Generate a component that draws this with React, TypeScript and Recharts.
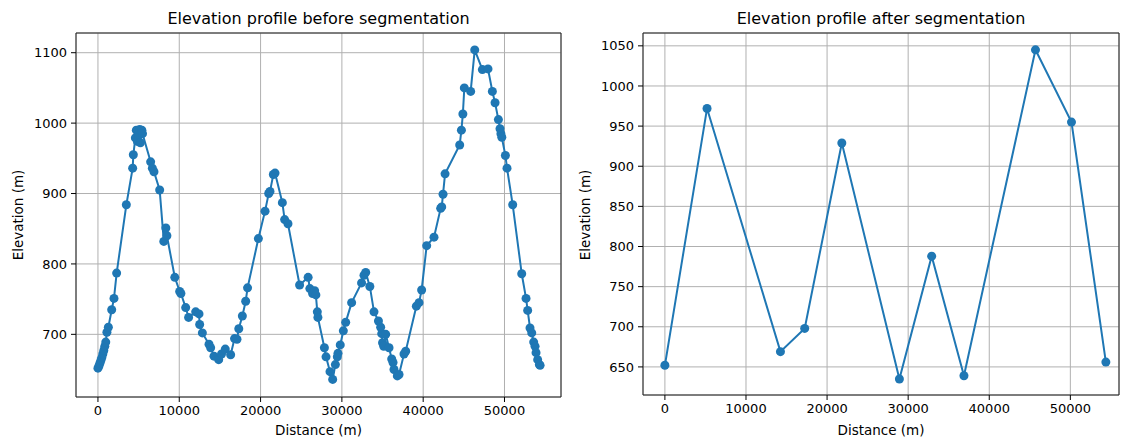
import React from "react";
import {LineChart, Line, XAxis, YAxis, CartesianGrid, ReferenceArea} from "recharts";

// full profile
const distances = [
	0, 120, 240, 360, 480, 600, 720, 840, 960, 1100, 1280, 1690, 1970, 2300, 3490, 4270, 4350, 4600, 4720, 4850,
	5000, 5130, 5220, 5400, 5480, 6480, 6690, 6890, 7590, 8100, 8350, 8480, 9450, 10050, 10200, 10790, 11150,
	12020, 12430, 12510, 12840, 13660, 13860, 14270, 14850, 15200, 15660, 16320, 16800, 17100, 17320, 17760,
	18170, 18400, 19730, 20550, 21000, 21160, 21570, 21780, 22680, 22960, 23370, 24800, 25850, 26060, 26400,
	26650, 26800, 26980, 27050, 27850, 28050, 28540, 28870, 29200, 29440, 29520, 29800, 30180, 30470, 31200,
	32420, 32720, 32930, 33440, 33950, 34500, 34770, 34900, 35000, 35150, 35390, 35800, 36130, 36290, 36410,
	36820, 37030, 37640, 37850, 39160, 39490, 39810, 40430, 41330, 42150, 42280, 42440, 42690, 44490, 44700,
	44880, 45060, 45840, 46340, 47280, 47970, 48510, 48840, 49250, 49450, 49560, 49670, 50110, 50310, 51010,
	52120, 52650, 52850, 53140, 53350, 53590, 53760, 53880, 54080, 54290, 54380,
];
const elevations = [
	652, 655, 659, 663, 667, 672, 677, 683, 689, 703, 710, 735, 751, 787, 884, 936, 955, 979, 990, 974,
	984, 991, 972, 990, 985, 945, 936, 931, 905, 832, 851, 840, 781, 761, 758, 738, 724,
	732, 729, 714, 702, 686, 681, 669, 664, 672, 679, 671, 694, 693, 708, 726,
	747, 766, 836, 875, 900, 903, 927, 929, 887, 863, 857, 770, 781, 765, 758,
	762, 756, 732, 724, 681, 668, 647, 636, 657, 668, 673, 685, 705, 717, 745,
	773, 784, 788, 768, 732, 719, 710, 701, 688, 683, 700, 681, 665, 660, 650,
	641, 643, 672, 676, 740, 745, 763, 826, 838, 879, 881, 899, 928, 969, 990,
	1013, 1050, 1045, 1104, 1076, 1077, 1045, 1029, 1005, 992, 985, 980, 954, 936, 884,
	786, 751, 734, 709, 702, 689, 683, 674, 664, 657, 656,
];

// segmented profile (right plot)
const segDistances = [0, 5200, 14250, 17240, 21820, 28920, 32900, 36880, 45700, 50140, 54380];
const segElevations = [652, 972, 669, 698, 929, 635, 788, 639, 1045, 955, 656];

const xTicks = [0, 10000, 20000, 30000, 40000, 50000];
const leftYTicks = [700, 800, 900, 1000, 1100];
const rightYTicks = [650, 700, 750, 800, 850, 900, 950, 1000, 1050];

const BLUE = "#1f77b4";
const tickStyle = {fontSize: 13, fill: "#000"};

type PanelProps = {
	left: number;
	width: number;
	yAxisWidth: number;
	rightMargin: number;
	xAxisHeight: number;
	xDomain: [number, number];
	yDomain: [number, number];
	yTicks: number[];
	data: {d: number; e: number}[];
	title: string;
};

function Panel(p: PanelProps) {
	const plotLeft = p.left + p.yAxisWidth;
	const plotRight = p.left + p.width - p.rightMargin;
	const cx = (plotLeft + plotRight) / 2;
	return (
		<>
			<div style={{position: "absolute", left: cx, top: 18, transform: "translate(-50%,-50%)", fontSize: 16, whiteSpace: "nowrap"}}>
				{p.title}
			</div>
			<div style={{position: "absolute", left: cx, top: 430, transform: "translate(-50%,-50%)", fontSize: 13.5, whiteSpace: "nowrap"}}>
				Distance (m)
			</div>
			<div
				style={{
					position: "absolute",
					left: p.left + (p.left === 0 ? 18 : 15),
					top: 215,
					transform: "translate(-50%,-50%) rotate(-90deg)",
					fontSize: 13.5,
					whiteSpace: "nowrap",
				}}
			>
				Elevation (m)
			</div>
			<div style={{position: "absolute", left: p.left, top: 0}}>
				<LineChart
					width={p.width}
					height={437}
					data={p.data}
					margin={{top: 33, right: p.rightMargin, bottom: 0, left: 0}}
				>
					<CartesianGrid stroke='#b0b0b0' strokeWidth={1} />
					<XAxis
						dataKey='d'
						type='number'
						domain={p.xDomain}
						ticks={xTicks}
						allowDataOverflow
						height={p.xAxisHeight}
						axisLine={false}
						tickLine={{stroke: "#000"}}
						tickSize={5}
						tickMargin={4}
						tick={tickStyle}
					/>
					<YAxis
						type='number'
						domain={p.yDomain}
						ticks={p.yTicks}
						allowDataOverflow
						width={p.yAxisWidth}
						axisLine={false}
						tickLine={{stroke: "#000"}}
						tickSize={5}
						tickMargin={4}
						tick={tickStyle}
					/>
					<ReferenceArea
						x1={p.xDomain[0]}
						x2={p.xDomain[1]}
						y1={p.yDomain[0]}
						y2={p.yDomain[1]}
						fill='none'
						stroke='#222'
						strokeWidth={1}
						ifOverflow='visible'
					/>
					<Line
						type='linear'
						dataKey='e'
						stroke={BLUE}
						strokeWidth={2}
						dot={{r: 4.5, fill: BLUE, stroke: BLUE, strokeWidth: 0}}
						activeDot={false}
						isAnimationActive={false}
					/>
				</LineChart>
			</div>
		</>
	);
}

export default function App() {
	const fullData = distances.map((d, i) => ({d, e: elevations[i]}));
	const segData = segDistances.map((d, i) => ({d, e: segElevations[i]}));
	return (
		<div
			style={{
				position: "absolute",
				left: 0,
				top: 0,
				width: 1125,
				height: 437,
				background: "#fff",
				overflow: "hidden",
				fontFamily: "'DejaVu Sans', sans-serif",
				color: "#000",
			}}
		>
			<Panel
				left={0}
				width={570}
				yAxisWidth={76}
				rightMargin={9}
				xAxisHeight={40}
				xDomain={[-2700, 56950]}
				yDomain={[611, 1128]}
				yTicks={leftYTicks}
				data={fullData}
				title='Elevation profile before segmentation'
			/>
			<Panel
				left={570}
				width={555}
				yAxisWidth={73}
				rightMargin={6}
				xAxisHeight={42}
				xDomain={[-2700, 56000]}
				yDomain={[615, 1066]}
				yTicks={rightYTicks}
				data={segData}
				title='Elevation profile after segmentation'
			/>
		</div>
	);
}
